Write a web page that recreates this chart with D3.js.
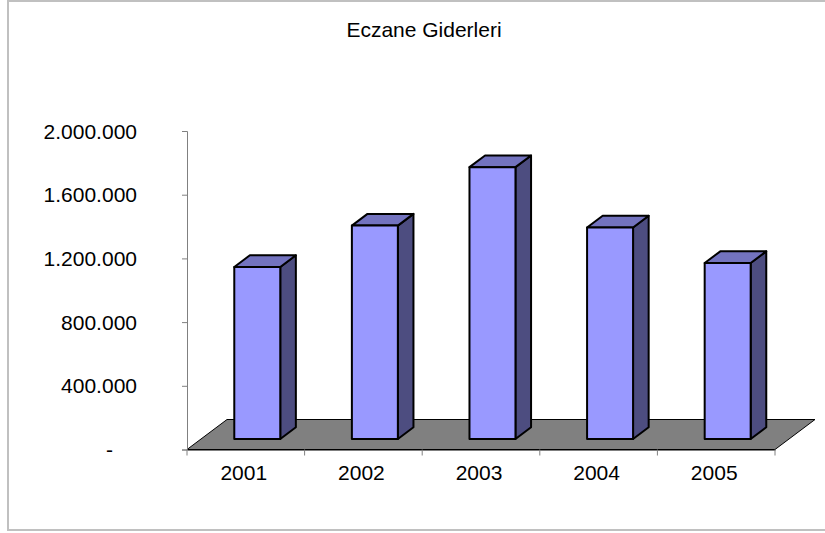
<!DOCTYPE html>
<html>
  <head>
    <meta charset="utf-8" />
    <title>Eczane Giderleri</title>
    <script src="https://d3js.org/d3.v7.min.js"></script>
    <style>
      body { margin: 0; background: #fff; }
      text { font-family: 'Liberation Sans', Arial, sans-serif; fill: #000; }
    </style>
  </head>
  <body>
    <script>
      const title = 'Eczane Giderleri';
      const years = ['2001', '2002', '2003', '2004', '2005'];
      const values = [1080000, 1340000, 1707000, 1328000, 1105000];
      const yTicks = [0, 400000, 800000, 1200000, 1600000, 2000000];

      const W = 825;
      const H = 533;

      // 3d floor depth (pixels) and where the bars sit inside it
      const depth = { dx: 40, dy: -30 };
      const f0 = 0.35;
      const f1 = 0.74;

      const tr = d3.formatLocale({ decimal: ',', thousands: '.', grouping: [3], currency: ['', ''] });
      const fmt = tr.format(',d');

      const svg = d3.select('body').append('svg').attr('width', W).attr('height', H);

      // outer frame
      svg
        .append('rect')
        .attr('x', 8)
        .attr('y', 1)
        .attr('width', W + 10)
        .attr('height', 529)
        .attr('fill', '#fff')
        .attr('stroke', '#c0c0c0')
        .attr('stroke-width', 2);

      svg
        .append('text')
        .attr('x', 424)
        .attr('y', 37)
        .attr('text-anchor', 'middle')
        .style('font-size', '21px')
        .text(title);

      var x = d3.scaleBand().domain(years).range([187, 775]).padding(0);
      var y = d3.scaleLinear().domain([0, 2000000]).range([449.5, 131]);

      // floor
      var x0 = x.range()[0],
        x1 = x.range()[1],
        y0 = y(0);
      svg
        .append('path')
        .attr(
          'd',
          d3.line()([
            [x0, y0],
            [x0 + depth.dx, y0 + depth.dy],
            [x1 + depth.dx, y0 + depth.dy],
            [x1, y0],
          ]) + 'Z'
        )
        .attr('fill', '#808080')
        .attr('stroke', '#000')
        .attr('stroke-width', 1);

      // y axis
      var yAxis = svg
        .append('g')
        .attr('transform', 'translate(' + x0 + ',0)')
        .call(
          d3
            .axisLeft(y)
            .tickValues(yTicks)
            .tickSize(5)
            .tickPadding(45)
            .tickFormat((d) => (d === 0 ? '-' : fmt(d)))
        );
      yAxis.select('.domain').attr('stroke', '#808080');
      yAxis.selectAll('.tick line').attr('stroke', '#808080');
      yAxis
        .selectAll('.tick text')
        .style('font-size', '21px')
        .attr('dy', '0.34em')
        .attr('dx', (d) => (d === 0 ? -24 : 0));

      // x axis
      var xAxis = svg
        .append('g')
        .attr('transform', 'translate(0,' + y0 + ')')
        .call(d3.axisBottom(x).tickSize(0).tickPadding(16));
      xAxis.select('.domain').attr('stroke', '#000');
      xAxis.selectAll('.tick text').style('font-size', '21px').attr('dx', -2);
      xAxis
        .selectAll('.sep')
        .data(years.concat(['end']))
        .enter()
        .append('line')
        .attr('class', 'sep')
        .attr('x1', (d, i) => x0 + i * x.bandwidth())
        .attr('x2', (d, i) => x0 + i * x.bandwidth())
        .attr('y1', 0)
        .attr('y2', 6)
        .attr('stroke', '#808080');

      // bars
      var bw = x.bandwidth() * 0.391;
      var off = x.bandwidth() * 0.283;
      var fx = depth.dx * f0,
        fy = depth.dy * f0;
      var sx = depth.dx * (f1 - f0),
        sy = depth.dy * (f1 - f0);

      var bars = svg
        .selectAll('.bar')
        .data(years.map((d, i) => ({ year: d, value: values[i] })))
        .enter()
        .append('g')
        .attr('class', 'bar')
        .attr('stroke', '#000')
        .attr('stroke-width', 2)
        .attr('stroke-linejoin', 'round');

      function pts(d) {
        var l = x(d.year) + off + fx;
        var r = l + bw;
        var b = y0 + fy;
        var t = y(d.value) + fy;
        return { l: l, r: r, b: b, t: t };
      }

      bars
        .append('path')
        .attr('fill', '#4d4d80')
        .attr('d', (d) => {
          var p = pts(d);
          return d3.line()([
            [p.r, p.b],
            [p.r, p.t],
            [p.r + sx, p.t + sy],
            [p.r + sx, p.b + sy],
          ]) + 'Z';
        });

      bars
        .append('path')
        .attr('fill', '#7373bf')
        .attr('d', (d) => {
          var p = pts(d);
          return d3.line()([
            [p.l, p.t],
            [p.l + sx, p.t + sy],
            [p.r + sx, p.t + sy],
            [p.r, p.t],
          ]) + 'Z';
        });

      bars
        .append('rect')
        .attr('fill', '#9999ff')
        .attr('x', (d) => pts(d).l)
        .attr('y', (d) => pts(d).t)
        .attr('width', bw)
        .attr('height', (d) => pts(d).b - pts(d).t);
    </script>
  </body>
</html>
